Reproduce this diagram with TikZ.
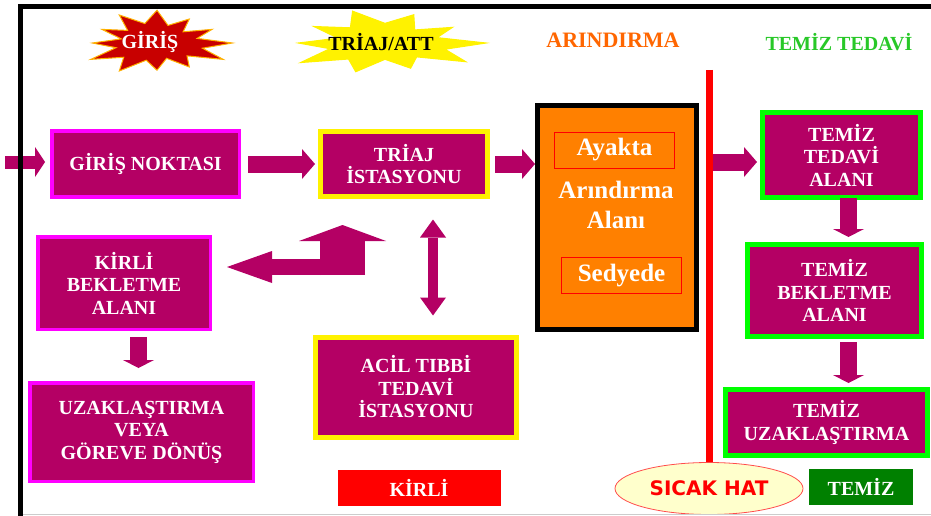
\documentclass[tikz,border=0pt]{standalone}
\usepackage{fontspec}
\setmainfont{Liberation Serif}
\newfontfamily\hatfont{DejaVu Sans}
\usetikzlibrary{arrows.meta,shapes.geometric}

\pgfkeys{/pgf/declare function={burst(\t,\n,\i) = ((1+\i)/2+(1-\i)/2*cos(\n*\t))*(1+0.12*sin(3*\t+40));}}

\definecolor{plum}{RGB}{180,0,100}
\definecolor{edgemag}{RGB}{255,0,255}
\definecolor{edgegreen}{RGB}{0,255,0}
\definecolor{washorange}{RGB}{255,128,0}
\definecolor{headorange}{RGB}{255,102,0}
\definecolor{headgreen}{RGB}{40,200,40}
\definecolor{cleangreen}{RGB}{0,128,0}
\definecolor{hatfill}{RGB}{255,255,204}
\definecolor{starred}{RGB}{200,0,0}

\begin{document}
\begin{tikzpicture}[
    x=1pt,
    y=-1pt,
    area/.style={
        rectangle,
        fill=plum,
        text=white,
        inner sep=0pt,
        align=center,
        font=\fontsize{20}{22.5}\selectfont\bfseries,
    },
    dirty/.style={area,draw=edgemag,line width=3.5pt},
    triage/.style={area,draw=yellow,line width=5pt},
    clean/.style={area,draw=edgegreen,line width=5pt},
    tag/.style={
        rectangle,
        inner sep=0pt,
        minimum height=36pt,
        text=white,
        font=\fontsize{20}{22.5}\selectfont\bfseries,
    },
    washbox/.style={
        rectangle,
        draw=red,
        line width=0.8pt,
        inner sep=0pt,
        minimum width=120pt,
        minimum height=36pt,
        text=white,
        font=\fontsize{25}{30}\selectfont\bfseries,
    },
    head/.style={inner sep=0pt,font=\fontsize{20}{24}\selectfont\bfseries},
    blockarrow/.style={color=plum,line width=17pt,-{Triangle[length=13pt,width=30pt,line width=0pt]}},
    droparrow/.style={color=plum,line width=17pt,-{Triangle[length=8pt,width=31pt,line width=0pt]}},
]
    \useasboundingbox (0,0) rectangle (931,516);

    % bursts behind the column heads
    \filldraw[fill=starred,draw=orange!60!yellow,line width=1pt]
        plot[variable=\t,samples at={0,15,...,345}] ({157+70*burst(\t,12,0.6)*cos(\t)},{43+30*burst(\t,12,0.6)*sin(\t)}) -- cycle;
    \filldraw[fill=yellow,draw=yellow,line width=1pt]
        plot[variable=\t,samples at={0,18,...,342}] ({385+94*burst(\t,10,0.6)*cos(\t)},{43+30*burst(\t,10,0.6)*sin(\t)}) -- cycle;

    \node[head,text=white] (giris) at (150,42) {GİRİŞ};
    \node[head] (triaj) at (381,42) {TRİAJ/ATT};
    \node[head,text=headorange,font=\fontsize{22}{24}\selectfont\bfseries] (arindirma) at (613,40) {ARINDIRMA};
    \node[head,text=headgreen] (temiztedavi) at (839,42) {TEMİZ TEDAVİ};

    \node[dirty,minimum width=187.5pt,minimum height=65.5pt] (gn) at (145.5,164) {GİRİŞ NOKTASI};
    \node[triage,minimum width=167pt,minimum height=64pt] (tri) at (404,164) {TRİAJ\\İSTASYONU};
    \node[dirty,minimum width=172.5pt,minimum height=92.5pt] (kba) at (124,283) {KİRLİ\\BEKLETME\\ALANI};
    \node[dirty,minimum width=223.5pt,minimum height=98.5pt] (uzk) at (141.5,432) {UZAKLAŞTIRMA\\VEYA\\GÖREVE DÖNÜŞ};
    \node[triage,minimum width=201pt,minimum height=100pt] (acil) at (416,387) {ACİL TIBBİ\\TEDAVİ\\İSTASYONU};

    \node[rectangle,draw=black,line width=5pt,fill=washorange,minimum width=159pt,minimum height=224pt] (arin) at (617,217.5) {};
    \node[washbox] (ayakta) at (614.5,150) {Ayakta};
    \node[text=white,align=center,inner sep=0pt,font=\fontsize{25}{30}\selectfont\bfseries] (alan) at (616,205) {Arındırma\\Alanı};
    \node[washbox] (sedyede) at (621.5,275.5) {Sedyede};

    \node[clean,minimum width=158pt,minimum height=85pt] (tta) at (841.5,155) {TEMİZ\\TEDAVİ\\ALANI};
    \node[clean,minimum width=174pt,minimum height=92pt] (tba) at (834.5,290.5) {TEMİZ\\BEKLETME\\ALANI};
    \node[clean,minimum width=202pt,minimum height=66pt] (tua) at (826.5,422.5) {TEMİZ\\UZAKLAŞTIRMA};

    \node[tag,fill=red,minimum width=163pt] (kirli) at (419,488) {KİRLİ};
    \node[tag,fill=cleangreen,minimum width=104pt] (temiz) at (861,487) {TEMİZ};
    \node[ellipse,draw=red!70,fill=hatfill,line width=0.8pt,minimum width=188pt,minimum height=52pt,
        text=red,font=\hatfont\fontsize{20}{24}\selectfont\bfseries] (sicak) at (709,488.5) {SICAK HAT};

    \coordinate (hattop) at (709,70);
    \draw[red,line width=7pt] (hattop) -- (sicak.north);

    \coordinate (door) at (5,162);
    \draw[blockarrow,line width=13pt,-{Triangle[length=10pt,width=30pt,line width=0pt]},shorten >=5pt] (door) -- (door -| gn.west);
    \draw[blockarrow,shorten <=7pt,shorten >=3pt] (gn) -- (tri);
    \draw[blockarrow,shorten <=5pt] (tri.east) -- (tri.east -| arin.west);
    \coordinate (hot) at (712.5,162);
    \draw[blockarrow,shorten >=3pt] (hot) -- (hot -| tta.west);

    \coordinate (cleanx) at (848.5,0);
    \draw[droparrow,shorten <=-2pt,shorten >=5pt] (cleanx |- tta.south) -- (cleanx |- tba.north);
    \draw[droparrow,shorten <=3pt,shorten >=4pt] (cleanx |- tba.south) -- (cleanx |- tua.north);
    \coordinate (dirtyx) at (138.5,0);
    \draw[droparrow,shorten <=6pt,shorten >=13pt] (dirtyx |- kba.south) -- (dirtyx |- uzk.north);

    \coordinate (linkx) at (433,0);
    \draw[color=plum,line width=10pt,{Triangle[length=18pt,width=26pt,line width=0pt]}-{Triangle[length=18pt,width=26pt,line width=0pt]},
        shorten <=21pt,shorten >=19pt] (linkx |- tri.south) -- (linkx |- acil.north);

    \coordinate (bend) at (365,267);
    \draw[color=plum,line width=16pt,-{Triangle[length=45pt,width=32pt,line width=0pt]},shorten >=15pt] (bend) -- (bend -| kba.east);
    \coordinate (riser) at (342.5,275);
    \coordinate (risertip) at (342.5,225);
    \draw[color=plum,line width=45pt,-{Triangle[length=16pt,width=87pt,line width=0pt]}] (riser) -- (risertip);

    \draw[gray!40,line width=1pt] (20,514) -- (931,514);
    \draw[line width=5pt] (20.5,516) -- (20.5,7) -- (931,7);
\end{tikzpicture}
\end{document}
